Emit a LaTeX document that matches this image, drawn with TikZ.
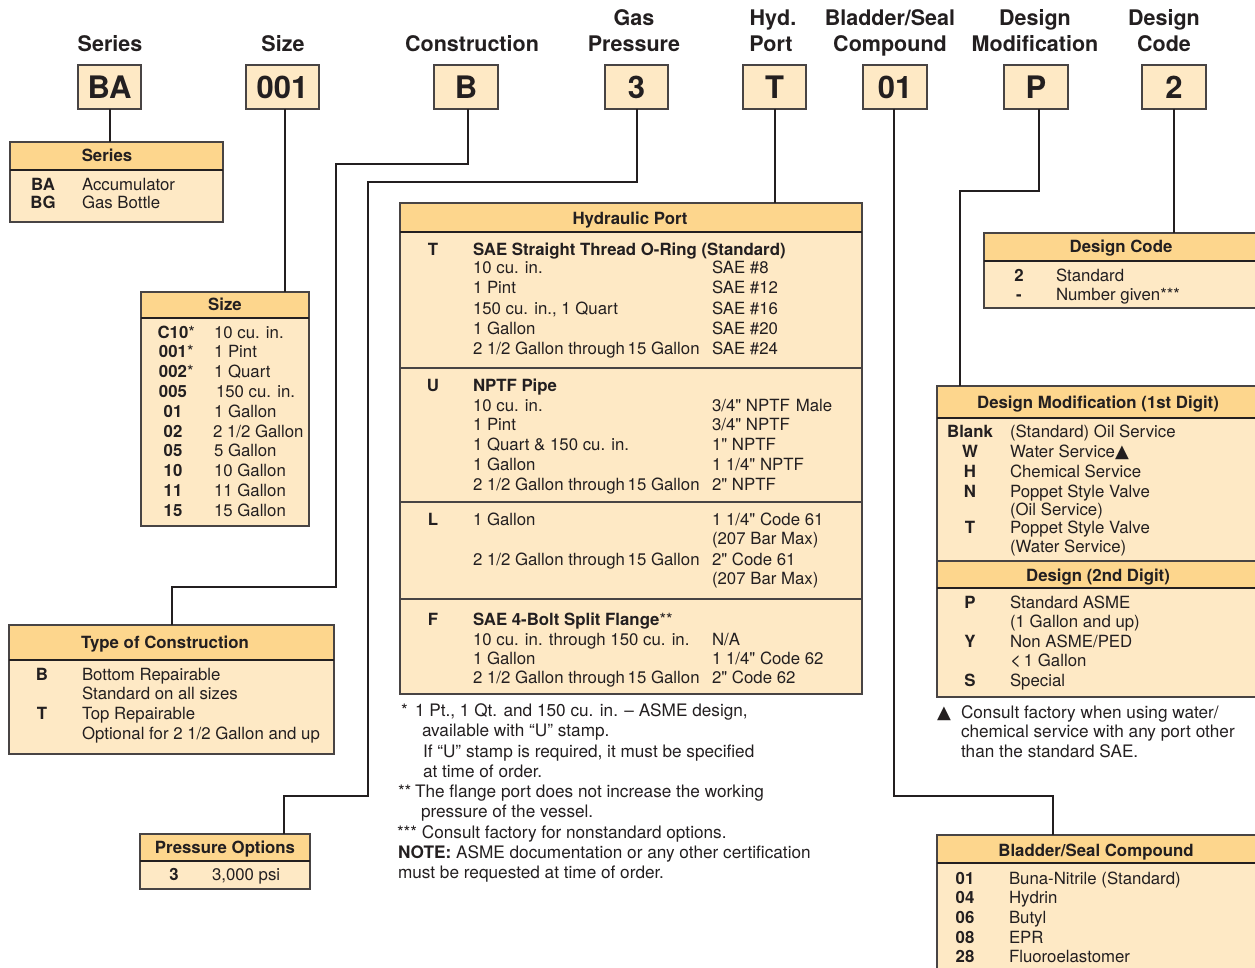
\documentclass[tikz,border=0pt]{standalone}
\usepackage{fontspec}
\setmainfont{TeX Gyre Heros}
\newfontfamily\symfont{DejaVu Sans}
\definecolor{hdrfill}{RGB}{253,214,141}
\definecolor{bodyfill}{RGB}{254,233,197}
\definecolor{ink}{RGB}{35,31,32}
\definecolor{edge}{RGB}{72,68,68}
\newcommand\trow[6]{\node[bt] (#1c) at (#2,#4) {#5};\node[lt] (#1d) at (#3,#4) {#6};}
\newcommand\prow[4]{\node[lt] (#1a) at (473,#2) {#3};\node[lt] (#1b) at (712,#2) {#4};}
\newcommand\inch{\textquotedbl}
\newcommand\tri{{\symfont\fontsize{18}{20}\selectfont ▲}}
\begin{document}
\begin{tikzpicture}[x=1pt,y=-1pt,
 txt/.style={font=\fontsize{16.8}{20}\selectfont, text=ink, inner sep=0, outer sep=0},
 lt/.style={txt, anchor=base west},
 ft/.style={txt, anchor=base west, font=\fontsize{17.2}{20}\selectfont},
 bt/.style={txt, anchor=base, font=\fontsize{16.8}{20}\selectfont\bfseries},
 bl/.style={txt, anchor=base west, font=\fontsize{16.8}{20}\selectfont\bfseries},
 toplabel/.style={txt, anchor=base, font=\fontsize{21.5}{26}\selectfont\bfseries},
 codebox/.style={draw=edge, line width=1.2pt, fill=bodyfill, minimum height=44pt, inner sep=0, outer sep=0, anchor=north west, text=ink, font=\fontsize{31}{36}\selectfont\bfseries},
 conn/.style={draw=ink, line width=2pt},
 tbl/.style={draw=edge, line width=1.2pt, fill=bodyfill, inner sep=0, outer sep=0, anchor=north west},
 hdr/.style={draw=edge, line width=1.2pt, fill=hdrfill, inner sep=0, outer sep=0, anchor=north west},
 hline/.style={draw=ink, line width=2pt},
 sepline/.style={draw=edge, line width=1.5pt},
]
\useasboundingbox (0,0) rectangle (1255,968);
\clip (0,0) rectangle (1255,968);

% ---------- top labels ----------
\node[toplabel] (lSeries) at (110,52) {Series};
\node[toplabel] (lSize) at (283,52) {Size};
\node[toplabel] (lCons) at (472,52) {Construction};
\node[toplabel] (lGas1) at (634,26) {Gas};
\node[toplabel] (lGas2) at (634,52) {Pressure};
\node[toplabel] (lHyd1) at (773,26) {Hyd.};
\node[toplabel] (lHyd2) at (771,52) {Port};
\node[toplabel] (lBl1) at (890,26) {Bladder/Seal};
\node[toplabel] (lBl2) at (890,52) {Compound};
\node[toplabel] (lDM1) at (1035,26) {Design};
\node[toplabel] (lDM2) at (1035,52) {Modification};
\node[toplabel] (lDC1) at (1164,26) {Design};
\node[toplabel] (lDC2) at (1164,52) {Code};

% ---------- code boxes ----------
\node[codebox, minimum width=63pt] (cBA) at (78,65) {BA};
\node[codebox, minimum width=73pt] (c001) at (246,65) {001};
\node[codebox, minimum width=64pt] (cB) at (434,65) {B};
\node[codebox, minimum width=63pt] (c3) at (605,65) {3};
\node[codebox, minimum width=63pt] (cT) at (743,65) {T};
\node[codebox, minimum width=64pt] (c01) at (863,65) {01};
\node[codebox, minimum width=64pt] (cP) at (1004,65) {P};
\node[codebox, minimum width=64pt] (c2) at (1142,65) {2};

% ---------- Series table ----------
\node[tbl, minimum width=213pt, minimum height=80pt] (tser) at (10,142) {};
\node[hdr, minimum width=213pt, minimum height=28pt] (tserh) at (10,142) {};
\draw[hline] (tserh.south west) -- (tserh.south east);
\node[bt] (tsert) at (107,162) {Series};
\trow{sa}{43}{82}{191}{BA}{Accumulator}
\trow{sb}{43}{82}{209}{BG}{Gas Bottle}

% ---------- Size table ----------
\node[tbl, minimum width=168pt, minimum height=234pt] (tsize) at (141,292) {};
\node[hdr, minimum width=168pt, minimum height=26pt] (tsizeh) at (141,292) {};
\draw[hline] (tsizeh.south west) -- (tsizeh.south east);
\node[bt] (tsizet) at (225,310) {Size};
\trow{z1}{173}{214}{338}{C10\rlap{\mdseries *}}{10 cu. in.}
\trow{z2}{173}{214}{357}{001\rlap{\mdseries *}}{1 Pint}
\trow{z3}{173}{214}{377}{002\rlap{\mdseries *}}{1 Quart}
\trow{z4}{173}{216}{397}{005}{150 cu. in.}
\trow{z5}{173}{214}{417}{01}{1 Gallon}
\trow{z6}{173}{213}{437}{02}{2 1/2 Gallon}
\trow{z7}{173}{214}{456}{05}{5 Gallon}
\trow{z8}{173}{214}{476}{10}{10 Gallon}
\trow{z9}{173}{214}{496}{11}{11 Gallon}
\trow{z10}{173}{214}{516}{15}{15 Gallon}

% ---------- Type of Construction ----------
\node[tbl, minimum width=325pt, minimum height=129pt] (tcons) at (9,625) {};
\node[hdr, minimum width=325pt, minimum height=35pt] (tconsh) at (9,625) {};
\draw[hline] (tconsh.south west) -- (tconsh.south east);
\node[bt] (tconst) at (165,648) {Type of Construction};
\trow{ka}{42}{82}{680}{B}{Bottom Repairable}
\node[lt] (kb) at (82,699) {Standard on all sizes};
\trow{kc}{42}{82}{719}{T}{Top Repairable}
\node[lt] (kd) at (82,739) {Optional for 2 1/2 Gallon and up};

% ---------- Pressure Options ----------
\node[tbl, minimum width=170pt, minimum height=55pt] (tpress) at (140,834) {};
\node[hdr, minimum width=170pt, minimum height=27pt] (tpressh) at (140,834) {};
\draw[hline] (tpressh.south west) -- (tpressh.south east);
\node[bt] (tpresst) at (225,853) {Pressure Options};
\trow{pa}{174}{212}{880}{3}{3,000 psi}

% ---------- Hydraulic Port ----------
\node[tbl, minimum width=462pt, minimum height=491pt] (thyd) at (400,203) {};
\node[hdr, minimum width=462pt, minimum height=29pt] (thydh) at (400,203) {};
\draw[hline] (thydh.south west) -- (thydh.south east);
\node[bt] (thydt) at (630,225) {Hydraulic Port};
\coordinate (hs1) at (400,368); \coordinate (hs2) at (400,502); \coordinate (hs3) at (400,599);
\draw[sepline] (hs1) -- (hs1 -| thyd.east);
\draw[sepline] (hs2) -- (hs2 -| thyd.east);
\draw[sepline] (hs3) -- (hs3 -| thyd.east);
\node[bt] (hT) at (433,256) {T};
\node[bl] (hTt) at (473,256) {SAE Straight Thread O-Ring (Standard)};
\prow{t1}{274}{10 cu. in.}{SAE \#8}
\prow{t2}{294}{1 Pint}{SAE \#12}
\prow{t3}{314}{150 cu. in., 1 Quart}{SAE \#16}
\prow{t4}{334}{1 Gallon}{SAE \#20}
\prow{t5}{354}{2 1/2 Gallon through\hspace{-2pt} 15 Gallon}{SAE \#24}
\node[bt] (hU) at (433,391) {U};
\node[bl] (hUt) at (473,391) {NPTF Pipe};
\prow{u1}{411}{10 cu. in.}{3/4\inch\ NPTF\hspace{6pt}Male}
\prow{u2}{430}{1 Pint}{3/4\inch\ NPTF}
\prow{u3}{450}{1 Quart \& 150 cu. in.}{1\inch\ NPTF}
\prow{u4}{470}{1 Gallon}{1 1/4\inch\ NPTF}
\prow{u5}{490}{2 1/2 Gallon through\hspace{-2pt} 15 Gallon}{2\inch\ NPTF}
\node[bt] (hL) at (433,525) {L};
\prow{l1}{525}{1 Gallon}{1 1/4\inch\ Code 61}
\node[lt] (l2) at (712,544) {(207 Bar Max)};
\prow{l3}{565}{2 1/2 Gallon through\hspace{-2pt} 15 Gallon}{2\inch\ Code 61}
\node[lt] (l4) at (712,584) {(207 Bar Max)};
\node[bt] (hF) at (433,625) {F};
\node[bl] (hFt) at (473,625) {SAE 4-Bolt Split Flange{\mdseries **}};
\prow{f1}{645}{10 cu. in. through 150 cu. in.}{N/A}
\prow{f2}{664}{1 Gallon}{1 1/4\inch\ Code 62}
\prow{f3}{683}{2 1/2 Gallon through\hspace{-2pt} 15 Gallon}{2\inch\ Code 62}

% ---------- footnotes ----------
\node[ft] (n1s) at (401,716) {*};
\node[ft] (n1) at (415,716) {1 Pt., 1 Qt. and 150 cu. in. -- ASME design,};
\node[ft] (n2) at (422,736) {available with “U” stamp.};
\node[ft] (n3) at (423,757) {If “U” stamp is required, it must be specified};
\node[ft] (n4) at (423,777) {at time of order.};
\node[ft] (n5s) at (398,797) {**};
\node[ft] (n5) at (415,797) {The flange port does not increase the working};
\node[ft] (n6) at (421,817) {pressure of the vessel.};
\node[ft] (n7) at (397,838) {*** Consult factory for nonstandard options.};
\node[ft] (n8) at (398,858) {\textbf{NOTE:} ASME documentation or any other certification};
\node[ft] (n9) at (398,878) {must be requested at time of order.};

% ---------- Design Code ----------
\node[tbl, minimum width=275pt, minimum height=75pt] (tdcode) at (984,233) {};
\node[hdr, minimum width=275pt, minimum height=28pt] (tdcodeh) at (984,233) {};
\draw[hline] (tdcodeh.south west) -- (tdcodeh.south east);
\node[bt] (tdcodet) at (1121,253) {Design Code};
\trow{da}{1019}{1056}{281}{2}{Standard}
\trow{db}{1019}{1056}{300}{-}{Number given***}

% ---------- Design Modification ----------
\node[tbl, minimum width=322pt, minimum height=311pt] (tdmod) at (937,386) {};
\node[hdr, minimum width=322pt, minimum height=32pt] (tdmodh) at (937,386) {};
\draw[hline] (tdmodh.south west) -- (tdmodh.south east);
\node[bt] (tdmodt) at (1098,408) {Design Modification (1st Digit)};
\trow{ma}{970}{1010}{437}{Blank}{(Standard) Oil Service}
\trow{mb}{970}{1010}{457}{W}{Water Service\tri}
\trow{mc}{970}{1010}{477}{H}{Chemical Service}
\trow{md}{970}{1010}{497}{N}{Poppet Style Valve}
\node[lt] (me) at (1010,515) {(Oil Service)};
\trow{mf}{970}{1010}{533}{T}{Poppet Style Valve}
\node[lt] (mg) at (1010,552) {(Water Service)};
\node[hdr, minimum width=322pt, minimum height=27pt] (tdmod2h) at (937,561) {};
\draw[hline] (tdmod2h.south west) -- (tdmod2h.south east);
\node[bt] (tdmod2t) at (1098,581) {Design (2nd Digit)};
\trow{ea}{970}{1010}{608}{P}{Standard ASME}
\node[lt] (eb) at (1010,627) {(1 Gallon and up)};
\trow{ec}{970}{1010}{647}{Y}{Non ASME/PED}
\node[lt] (ed) at (1010,666) {{\fontsize{19}{20}\selectfont <}\,1 Gallon};
\trow{ee}{970}{1010}{686}{S}{Special}
\node[lt] (wt) at (937,718) {\tri};
\node[ft] (w1) at (961,718) {Consult factory when using water/};
\node[ft] (w2) at (961,737) {chemical service with any port other};
\node[ft] (w3) at (961,757) {than the standard SAE.};

% ---------- Bladder/Seal Compound ----------
\node[tbl, minimum width=322pt, minimum height=145pt] (tblad) at (937,835) {};
\node[hdr, minimum width=322pt, minimum height=28pt] (tbladh) at (937,835) {};
\draw[hline] (tbladh.south west) -- (tbladh.south east);
\node[bt] (tbladt) at (1096,856) {Bladder/Seal Compound};
\trow{ba}{965}{1009}{884}{01}{Buna-Nitrile (Standard)}
\trow{bb}{965}{1009}{903}{04}{Hydrin}
\trow{bc}{965}{1009}{923}{06}{Butyl}
\trow{bd}{965}{1009}{943}{08}{EPR}
\trow{be}{965}{1009}{962}{28}{Fluoroelastomer}

% ---------- connectors ----------
\draw[conn] (cBA.south) -- (cBA.south |- tser.north);
\draw[conn] ([xshift=2.5pt]c001.south) -- ([xshift=2.5pt]c001.south |- tsize.north);
\draw[conn] ([xshift=2pt]cB.south) |- (336,164) -- (336,587) -| (tcons.north);
\draw[conn] (c3.south) |- (368,182) -- (368,796) -| (284,834);
\draw[conn] (cT.south) -- (cT.south |- thyd.north);
\draw[conn] ([xshift=-1pt]c01.south) |- (1053,796) -- (1053,835);
\draw[conn] ([xshift=3pt]cP.south) |- (960,191) -- (960,386);
\draw[conn] (c2.south) -- (c2.south |- tdcode.north);
\end{tikzpicture}
\end{document}
